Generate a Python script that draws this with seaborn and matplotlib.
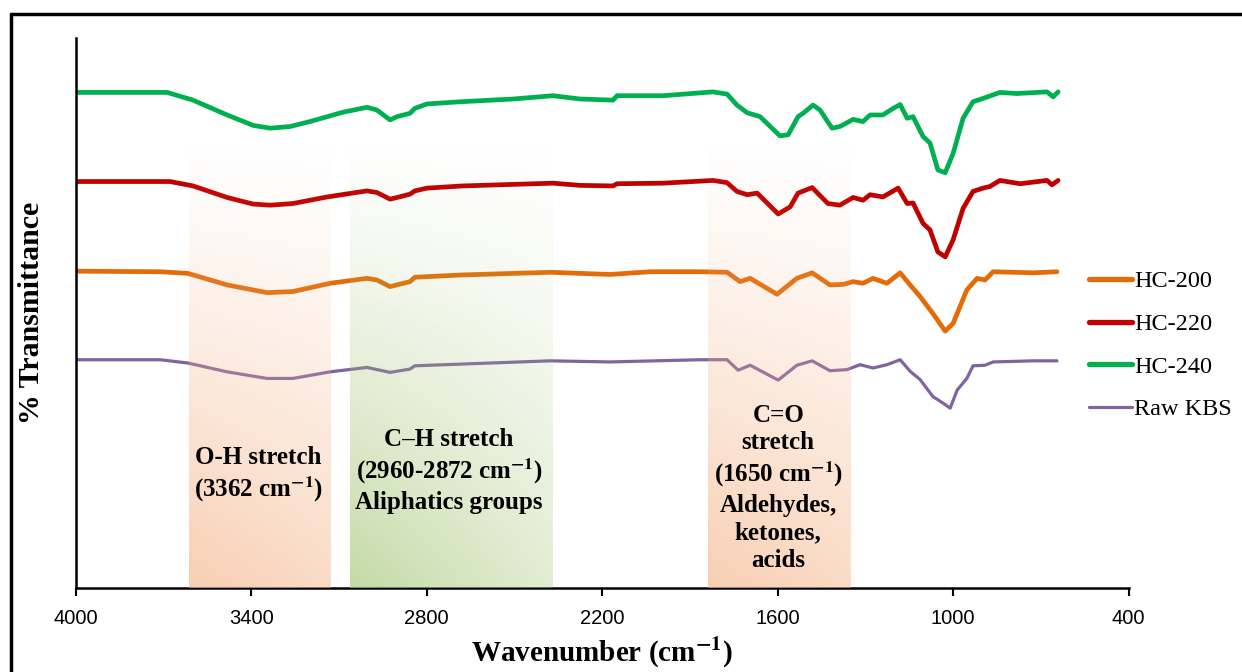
import numpy as np
import pandas as pd
import matplotlib
matplotlib.use('Agg')
import matplotlib.pyplot as plt
from matplotlib.lines import Line2D
from matplotlib import font_manager
import seaborn as sns

# spectra (wavenumber in cm-1, relative transmittance)
wn_240 = [4000, 3687, 3599, 3482, 3393, 3335, 3267, 3199, 3086, 3004, 2970, 2925, 2901, 2857, 2840,
          2799, 2686, 2505, 2368, 2275, 2163, 2149, 1992, 1821, 1773, 1739, 1704, 1660, 1592, 1564,
          1530, 1513, 1479, 1455, 1414, 1387, 1342, 1308, 1284, 1240, 1205, 1181, 1157, 1137, 1103,
          1079, 1052, 1027, 1000, 966, 932, 898, 840, 782, 679, 658, 641]
t_240 = [90.1, 90.1, 88.7, 86.0, 84.1, 83.6, 83.9, 84.8, 86.5, 87.4, 86.9, 85.1, 85.7, 86.3, 87.2,
         88.0, 88.4, 88.9, 89.5, 88.9, 88.7, 89.5, 89.5, 90.2, 89.8, 87.8, 86.4, 85.7, 82.2, 82.4,
         85.7, 86.3, 87.8, 86.9, 83.6, 83.9, 85.2, 84.8, 86.0, 86.0, 87.2, 87.9, 85.4, 85.7, 82.1,
         80.9, 76.0, 75.5, 79.0, 85.4, 88.4, 89.0, 90.1, 89.9, 90.2, 89.3, 90.2]

wn_220 = [4000, 3677, 3599, 3482, 3393, 3335, 3257, 3140, 3004, 2970, 2925, 2901, 2857, 2840, 2799,
          2676, 2368, 2275, 2163, 2149, 1992, 1821, 1773, 1739, 1704, 1670, 1598, 1557, 1530, 1482,
          1428, 1387, 1342, 1308, 1284, 1240, 1188, 1157, 1137, 1103, 1079, 1052, 1027, 1000, 966,
          932, 898, 874, 840, 771, 679, 662, 641]
t_220 = [73.9, 73.9, 73.1, 71.0, 69.8, 69.6, 69.9, 71.1, 72.2, 71.9, 70.7, 71.0, 71.6, 72.2, 72.7,
         73.1, 73.6, 73.2, 73.1, 73.5, 73.6, 74.1, 73.7, 72.1, 71.5, 71.8, 68.0, 69.3, 71.8, 72.8,
         69.9, 69.6, 71.0, 70.5, 71.5, 71.1, 72.7, 69.9, 70.0, 66.3, 65.1, 61.1, 60.2, 63.3, 69.0,
         72.1, 72.7, 73.0, 74.1, 73.5, 74.1, 73.3, 74.1]

wn_200 = [4000, 3711, 3616, 3482, 3346, 3257, 3130, 3004, 2970, 2925, 2857, 2840, 2686, 2378, 2173,
          2036, 1865, 1773, 1728, 1694, 1602, 1534, 1482, 1421, 1376, 1342, 1308, 1274, 1226, 1181,
          1147, 1113, 1069, 1027, 1000, 953, 918, 891, 863, 727, 645]
t_200 = [57.6, 57.5, 57.2, 55.1, 53.7, 53.9, 55.4, 56.3, 56.0, 54.8, 55.7, 56.5, 56.9, 57.4, 57.0,
         57.5, 57.5, 57.4, 55.7, 56.3, 53.4, 56.3, 57.3, 55.1, 55.2, 55.7, 55.4, 56.3, 55.4, 57.3,
         55.1, 53.0, 49.9, 46.7, 48.1, 54.2, 56.3, 56.0, 57.5, 57.3, 57.5]

wn_raw = [4000, 3711, 3616, 3482, 3346, 3257, 3130, 3004, 2925, 2857, 2840, 2686, 2378, 2173, 1865,
          1773, 1735, 1694, 1598, 1534, 1482, 1421, 1363, 1318, 1274, 1226, 1181, 1147, 1113, 1069,
          1034, 1010, 986, 953, 932, 891, 863, 727, 645]
t_raw = [41.5, 41.5, 40.9, 39.3, 38.1, 38.1, 39.3, 40.1, 39.2, 39.8, 40.4, 40.7, 41.3, 41.1, 41.5,
         41.5, 39.6, 40.5, 37.8, 40.5, 41.3, 39.5, 39.7, 40.6, 40.0, 40.6, 41.5, 39.4, 37.9, 34.8,
         33.6, 32.7, 36.0, 38.1, 40.4, 40.5, 41.1, 41.3, 41.3]

samples = ['HC-200', 'HC-220', 'HC-240', 'Raw KBS']
colors = ['#E36C09', '#C00000', '#00B050', '#8064A2']
x_ticks = [4000, 3400, 2800, 2200, 1600, 1000, 400]

# shaded band regions (cm-1) and labels
band_edges = [(3612, 3127), (3062, 2368), (1838, 1352)]
band_colors = ['#F4B183', '#A0C36E', '#F4B183']
band_fade = [0.75, 0.5, 0.75]
band_labels = ['O-H stretch\n(3362 cm$^{\\mathbf{-1}}$)',
               'C\u2013H stretch\n(2960-2872 cm$^{\\mathbf{-1}}$)\nAliphatics groups',
               'C=O\nstretch\n(1650 cm$^{\\mathbf{-1}}$)\nAldehydes,\nketones,\nacids']
label_pos = [(3376, 20.5), (2723, 21.3), (1598, 18.2)]

df = pd.concat([
    pd.DataFrame({'wn': wn_200, 't': t_200, 'sample': 'HC-200'}),
    pd.DataFrame({'wn': wn_220, 't': t_220, 'sample': 'HC-220'}),
    pd.DataFrame({'wn': wn_240, 't': t_240, 'sample': 'HC-240'}),
    pd.DataFrame({'wn': wn_raw, 't': t_raw, 'sample': 'Raw KBS'}),
])

sns.set_style('white')
plt.rcParams['font.family'] = ['Liberation Serif', 'DejaVu Serif']
plt.rcParams['mathtext.fontset'] = 'stix'
plt.rcParams['text.color'] = 'black'
plt.rcParams['axes.labelcolor'] = 'black'
plt.rcParams['xtick.color'] = 'black'

try:
    font_manager.findfont('Liberation Sans Narrow', fallback_to_default=False)
    tick_font = 'Liberation Sans Narrow'
except Exception:
    tick_font = 'Liberation Sans'

fig = plt.figure(figsize=(12.42, 6.72), dpi=100)
ax = fig.add_axes([0.0609, 0.125, 0.8478, 0.8185])

sns.lineplot(data=df, x='wn', y='t', hue='sample', palette=dict(zip(samples, colors)),
             estimator=None, sort=False, ax=ax, legend=False, zorder=2)
for line, s in zip(ax.lines, samples):
    line.set_linewidth(2.3 if s == 'Raw KBS' else 3.4)
    line.set_solid_capstyle('round')
    line.set_solid_joinstyle('round')

# gradient bands drawn over the lines
band_top = 82
for (w1, w2), c, fade in zip(band_edges, band_colors, band_fade):
    rgb = np.array(matplotlib.colors.to_rgb(c))
    ny, nx = 200, 60
    v = np.linspace(0, band_top, ny)[:, None]
    h = np.linspace(0, 1, nx)[None, :]
    alpha = 0.62 * (1 - v / band_top) ** 1.2 * (1 - (1 - fade) * h)
    img = np.zeros((ny, nx, 4))
    img[..., :3] = rgb
    img[..., 3] = alpha
    ax.imshow(img, extent=(w1, w2, 0, band_top), origin='lower', aspect='auto',
              zorder=3, interpolation='bilinear')

for txt, (x, y) in zip(band_labels, label_pos):
    ax.text(x, y, txt, ha='center', va='center', fontsize=18, fontweight='bold',
            linespacing=1.25, zorder=4, color='black')

ax.set_xlim(4000, 400)
ax.set_ylim(0, 100)
ax.set_xticks(x_ticks)
ax.set_xticklabels([str(t) for t in x_ticks], fontfamily=tick_font, fontsize=14.5)
ax.set_yticks([])
ax.tick_params(axis='x', direction='out', length=6, width=1.5, color='black', pad=9,
               bottom=True, labelcolor='black')
for side in ['top', 'right']:
    ax.spines[side].set_visible(False)
for side in ['left', 'bottom']:
    ax.spines[side].set_color('black')
    ax.spines[side].set_linewidth(1.8)

ax.set_xlabel('Wavenumber (cm$^{\\mathbf{-1}}$)', fontsize=21, fontweight='bold', labelpad=6)
ax.set_ylabel('% Transmittance', fontsize=21.5, fontweight='bold', labelpad=22)

handles = [Line2D([0], [0], color=c, lw=(2.3 if s == 'Raw KBS' else 3.8), solid_capstyle='round')
           for s, c in zip(samples, colors)]
leg = fig.legend(handles, samples, loc='center left', bbox_to_anchor=(1089 / 1242, 0.486),
                 frameon=False, fontsize=17.5, handlelength=1.75, handletextpad=0.12,
                 labelspacing=0.85, borderpad=0, borderaxespad=0)
for t in leg.get_texts():
    t.set_color('black')

# outer frame (cropped on right and bottom)
fx = 11 / 1242
fy = 1 - 14 / 672
fig.add_artist(Line2D([fx, fx], [-0.01, fy], transform=fig.transFigure, color='black', lw=2.5))
fig.add_artist(Line2D([fx, 1.01], [fy, fy], transform=fig.transFigure, color='black', lw=2.5))

fig.savefig('out.png', dpi=100)
